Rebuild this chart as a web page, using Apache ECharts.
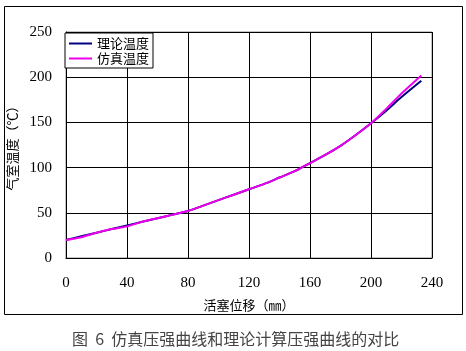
<!DOCTYPE html>
<html>
<head>
<meta charset="utf-8">
<script src="https://cdn.jsdelivr.net/npm/echarts@6/dist/echarts.min.js"></script>
<style>
  html, body { margin: 0; padding: 0; background: #fff; }
  #chart { width: 466px; height: 351px; }
</style>
</head>
<body>
<div id="chart"></div>
<script>
// piston displacement (mm)
const displacement = [0, 10, 20, 30, 40, 50, 60, 70, 80, 90, 100, 110, 120, 130, 140, 150, 160, 170, 180, 190, 200, 210, 220, 233];
// chamber temperature (°C)
const theoryTemp = [20, 24, 28, 32, 36, 40, 44, 48, 52, 58, 64, 70, 76, 82, 89, 96, 105, 114, 124, 136, 149, 163, 178, 196];
const simTemp    = [20, 23, 28, 32, 35, 40, 44, 48, 52, 58, 64, 70, 76, 82, 89, 96, 105, 114, 124, 136, 149, 165, 182, 202];

const xTicks = { min: 0, max: 240, step: 40 };
const yTicks = { min: 0, max: 250, step: 50 };

const serif = "'Liberation Serif', 'Noto Sans CJK SC', serif";
const cjk = "'Noto Sans CJK SC', sans-serif";

function pairs(xs, ys) {
    return xs.map((x, i) => [x, ys[i]]);
}

const chart = echarts.init(document.getElementById("chart"));

chart.setOption({
    animation: false,
    backgroundColor: "#fff",
    grid: {
        left: 66, right: 34, top: 32, bottom: 93,
        containLabel: false,
        outerBoundsMode: "none",
        show: true, borderColor: "#888", borderWidth: 1, backgroundColor: "transparent"
    },
    legend: {
        left: 65, top: 33,
        orient: "vertical",
        backgroundColor: "#fff",
        borderColor: "#000",
        borderWidth: 1,
        borderRadius: 0,
        padding: [3, 4, 2, 4],
        itemGap: 0,
        itemWidth: 23,
        itemHeight: 2,
        icon: "rect",
        textStyle: { fontFamily: cjk, fontSize: 13, color: "#000", lineHeight: 15, padding: [0, 0, 0, 0] },
        data: ["理论温度", "仿真温度"]
    },
    xAxis: {
        type: "value",
        min: xTicks.min, max: xTicks.max, interval: xTicks.step,
        name: "活塞位移（㎜）",
        nameLocation: "middle",
        nameGap: 41,
        nameTextStyle: { fontFamily: cjk, fontSize: 13, color: "#000" },
        axisLine: { lineStyle: { color: "#000", width: 1 } },
        axisTick: { show: true, inside: true, length: 3, lineStyle: { color: "#000" } },
        axisLabel: { fontFamily: serif, fontSize: 15, color: "#000", margin: 18 },
        splitLine: { show: true, lineStyle: { color: "#000", width: 1 } }
    },
    yAxis: {
        type: "value",
        min: yTicks.min, max: yTicks.max, interval: yTicks.step,
        name: "气室温度（℃）",
        nameLocation: "middle",
        nameGap: 47,
        nameTextStyle: { fontFamily: cjk, fontSize: 13, color: "#000" },
        axisLine: { show: true, lineStyle: { color: "#000", width: 1 } },
        axisTick: { show: true, inside: true, length: 3, lineStyle: { color: "#000" } },
        axisLabel: { fontFamily: serif, fontSize: 15, color: "#000", margin: 14 },
        splitLine: { show: true, lineStyle: { color: "#000", width: 1 } }
    },
    series: [
        {
            name: "理论温度",
            type: "line",
            data: pairs(displacement, theoryTemp),
            showSymbol: false,
            smooth: 0.3,
            color: "#000080",
            lineStyle: { width: 2, color: "#000080" }
        },
        {
            name: "仿真温度",
            type: "line",
            data: pairs(displacement, simTemp),
            showSymbol: false,
            smooth: 0.3,
            color: "#ee00ee",
            lineStyle: { width: 2, color: "#ee00ee" }
        }
    ],
    graphic: [
        {
            type: "rect",
            silent: true,
            shape: { x: 4.5, y: 6.5, width: 458, height: 308 },
            style: { fill: "none", stroke: "#000", lineWidth: 1 }
        },
        {
            type: "text",
            silent: true,
            left: 72,
            top: 331,
            style: {
                text: "图  6  仿真压强曲线和理论计算压强曲线的对比",
                font: "16px 'Noto Sans CJK SC', sans-serif",
                fill: "#444"
            }
        }
    ]
});
</script>
</body>
</html>
